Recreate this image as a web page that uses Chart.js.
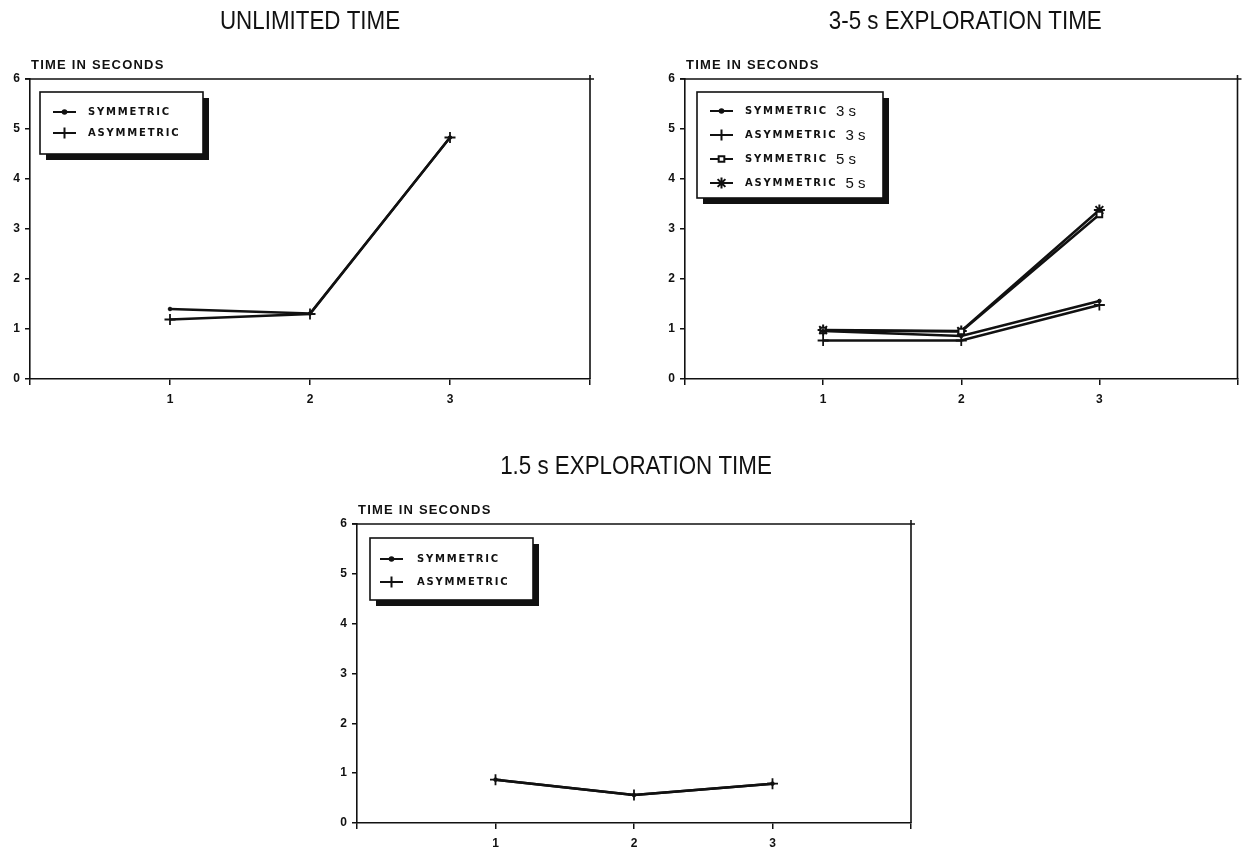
<!DOCTYPE html>
<html>
<head>
<meta charset="utf-8">
<script src="https://cdn.jsdelivr.net/npm/chart.js@4.4.1/dist/chart.umd.min.js"></script>
<style>
  html, body { margin: 0; padding: 0; background: #fff; }
  body { width: 1245px; height: 853px; position: relative; overflow: hidden; }
  canvas { position: absolute; }
</style>
</head>
<body>
<canvas id="unlimited" width="620" height="420" style="left:0px;top:0px"></canvas>
<canvas id="explore35" width="620" height="420" style="left:625px;top:0px"></canvas>
<canvas id="explore15" width="620" height="413" style="left:310px;top:440px"></canvas>
<script>
// Sessions on the x axis and their tick labels
const sessions = [1, 2, 3];
const xTickLabels = ['1', '2', '3'];
const yAxisTitle = 'TIME IN SECONDS';

// Unlimited time
const unlimitedSymmetric  = [1.40, 1.31, 4.83];
const unlimitedAsymmetric = [1.19, 1.30, 4.83];

// 3-5 s exploration time
const symmetric3s  = [0.96, 0.86, 1.56];
const asymmetric3s = [0.77, 0.77, 1.48];
const symmetric5s  = [0.97, 0.95, 3.29];
const asymmetric5s = [0.98, 0.96, 3.38];

// 1.5 s exploration time
const short15Symmetric  = [0.87, 0.56, 0.79];
const short15Asymmetric = [0.87, 0.56, 0.79];

const INK = '#111';
const TICK_FONT = { family: '"Liberation Sans", Arial, sans-serif', size: 12, weight: 'bold' };

const markers = {
  sym:   { pointStyle: 'circle', pointRadius: 1.8, pointBorderWidth: 1, pointBackgroundColor: INK },
  asym:  { pointStyle: 'cross',  pointRadius: 5.5, pointBorderWidth: 1.8, pointBackgroundColor: INK },
  sym5:  { pointStyle: 'rect',   pointRadius: 4,   pointBorderWidth: 2, pointBackgroundColor: '#fff' },
  asym5: { pointStyle: 'star',   pointRadius: 5.5, pointBorderWidth: 2, pointBackgroundColor: INK }
};

function series(label, values, marker) {
  return Object.assign({
    label: label,
    data: values.map((v, i) => ({ x: sessions[i], y: v })),
    borderColor: INK,
    pointBorderColor: INK,
    borderWidth: 2.5,
    tension: 0,
    fill: false
  }, markers[marker]);
}

// Panel titles, the y-axis caption, the box frame and the boxed legend
const panelDecor = {
  id: 'panelDecor',
  afterDraw(chart, args, o) {
    const { ctx, chartArea: a } = chart;
    ctx.save();

    // frame: top and right edges with short overhangs at the corner
    ctx.strokeStyle = INK;
    ctx.lineWidth = 1.6;
    ctx.beginPath();
    ctx.moveTo(a.left - 5, a.top); ctx.lineTo(a.right + 4, a.top);
    ctx.moveTo(a.right, a.top - 4); ctx.lineTo(a.right, a.bottom);
    ctx.stroke();

    // title, set in a slightly condensed face
    ctx.fillStyle = INK;
    ctx.textAlign = 'center';
    ctx.textBaseline = 'middle';
    ctx.font = '26px "Liberation Sans", Arial, sans-serif';
    ctx.save();
    ctx.translate((a.left + a.right) / 2 + (o.titleShift || 0), a.top - 57);
    ctx.scale(0.86, 1);
    ctx.fillText(o.title, 0, 0);
    ctx.restore();

    // y-axis caption
    ctx.textAlign = 'left';
    ctx.font = 'bold 13px "Liberation Sans", Arial, sans-serif';
    if ('letterSpacing' in ctx) ctx.letterSpacing = '1.2px';
    ctx.fillText(yAxisTitle, a.left + 1, a.top - 14);
    if ('letterSpacing' in ctx) ctx.letterSpacing = '0px';

    // legend box with drop shadow
    const L = o.legend;
    const bx = a.left + L.dx, by = a.top + L.dy;
    ctx.fillStyle = INK;
    ctx.fillRect(bx + 6, by + 6, L.width, L.height);
    ctx.fillStyle = '#fff';
    ctx.fillRect(bx, by, L.width, L.height);
    ctx.lineWidth = 1.6;
    ctx.strokeStyle = INK;
    ctx.strokeRect(bx, by, L.width, L.height);

    chart.data.datasets.forEach((ds, i) => {
      const y = by + L.firstRow + i * L.rowGap;
      const x0 = bx + L.sample, x1 = x0 + 23;
      ctx.strokeStyle = INK;
      ctx.lineWidth = 2;
      ctx.beginPath(); ctx.moveTo(x0, y); ctx.lineTo(x1, y); ctx.stroke();
      ctx.fillStyle = ds.pointBackgroundColor;
      Chart.helpers.drawPoint(ctx, {
        pointStyle: ds.pointStyle, radius: ds.pointRadius,
        rotation: 0, borderWidth: ds.pointBorderWidth
      }, (x0 + x1) / 2, y);

      const m = ds.label.match(/^(\D+?)\s+(\d.*)$/);
      const word = m ? m[1] : ds.label;
      ctx.fillStyle = INK;
      ctx.textAlign = 'left';
      ctx.textBaseline = 'middle';
      ctx.font = 'bold 10px "DejaVu Sans", sans-serif';
      if ('letterSpacing' in ctx) ctx.letterSpacing = '1.8px';
      const tx = bx + L.text;
      ctx.fillText(word, tx, y + 0.5);
      const w = ctx.measureText(word).width;
      if ('letterSpacing' in ctx) ctx.letterSpacing = '0px';
      if (m) {
        ctx.font = '15px "Liberation Sans", Arial, sans-serif';
        ctx.fillText(m[2], tx + w + 8, y + 0.5);
      }
    });
    ctx.restore();
  }
};

function makePanel(id, datasets, geo, title, legend) {
  new Chart(document.getElementById(id), {
    type: 'line',
    data: { datasets: datasets },
    plugins: [panelDecor],
    options: {
      responsive: false,
      animation: false,
      devicePixelRatio: 1,
      layout: { padding: { left: 0, top: geo.top, right: geo.right, bottom: 0 } },
      plugins: {
        legend: { display: false },
        tooltip: { enabled: false },
        panelDecor: { title: title, titleShift: geo.titleShift, legend: legend }
      },
      scales: {
        x: {
          type: 'linear', min: 0, max: 4,
          afterFit: s => { s.height = geo.xHeight; },
          ticks: {
            stepSize: 1,
            padding: 7,
            color: INK,
            font: TICK_FONT,
            callback: v => { const i = sessions.indexOf(v); return i >= 0 ? xTickLabels[i] : ''; }
          },
          grid: { drawOnChartArea: false, drawTicks: true, tickLength: 6, color: INK, lineWidth: 1.5 },
          border: { display: true, color: INK, width: 1.6 }
        },
        y: {
          min: 0, max: 6,
          afterFit: s => { s.width = geo.yWidth; },
          ticks: {
            stepSize: 1,
            padding: 5,
            color: INK,
            font: TICK_FONT
          },
          grid: { drawOnChartArea: false, drawTicks: true, tickLength: 5, color: INK, lineWidth: 1.5 },
          border: { display: true, color: INK, width: 1.6 }
        }
      }
    }
  });
}

makePanel('unlimited', [
  series('SYMMETRIC', unlimitedSymmetric, 'sym'),
  series('ASYMMETRIC', unlimitedAsymmetric, 'asym')
], { top: 79, right: 30, yWidth: 30, xHeight: 41, titleShift: 0 }, 'UNLIMITED TIME',
   { dx: 10, dy: 13, width: 163, height: 62, firstRow: 20, rowGap: 21, sample: 13, text: 48 });

makePanel('explore35', [
  series('SYMMETRIC 3 s', symmetric3s, 'sym'),
  series('ASYMMETRIC 3 s', asymmetric3s, 'asym'),
  series('SYMMETRIC 5 s', symmetric5s, 'sym5'),
  series('ASYMMETRIC 5 s', asymmetric5s, 'asym5')
], { top: 79, right: 5, yWidth: 60, xHeight: 41, titleShift: 4 }, '3-5 s EXPLORATION TIME',
   { dx: 12, dy: 13, width: 186, height: 106, firstRow: 19, rowGap: 24, sample: 13, text: 48 });

makePanel('explore15', [
  series('SYMMETRIC', short15Symmetric, 'sym'),
  series('ASYMMETRIC', short15Asymmetric, 'asym')
], { top: 84, right: 19, yWidth: 47, xHeight: 30, titleShift: 2 }, '1.5 s EXPLORATION TIME',
   { dx: 13, dy: 14, width: 163, height: 62, firstRow: 21, rowGap: 23, sample: 10, text: 47 });
</script>
</body>
</html>
